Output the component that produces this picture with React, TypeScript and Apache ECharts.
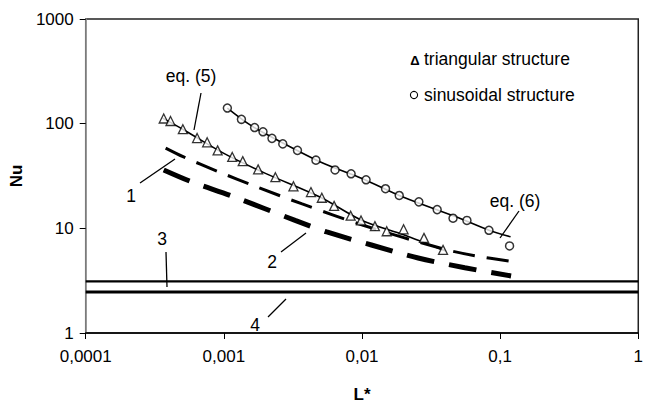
import React, { useEffect, useRef } from "react";
import * as echarts from "echarts";

const xTickValues = [0.0001, 0.001, 0.01, 0.1, 1];
const xTickLabels = ["0,0001", "0,001", "0,01", "0,1", "1"];
const yTickValues = [1, 10, 100, 1000];
const yTickLabels = ["1", "10", "100", "1000"];

const triangleL = [0.000367, 0.000411, 0.000505, 0.00064, 0.000757, 0.000901, 0.00115, 0.00137, 0.00177, 0.00236, 0.00319, 0.00427, 0.00512, 0.00628, 0.00828, 0.00984, 0.0124, 0.0151, 0.02, 0.0281, 0.0386];
const triangleNu = [112, 106, 88.5, 72.9, 66.4, 55.6, 48.1, 43.9, 36.6, 30.8, 25.2, 22.2, 19.6, 16.4, 13.2, 11.9, 10.5, 9.38, 9.79, 8.11, 6.23];

const circleL = [0.00106, 0.00134, 0.00167, 0.00192, 0.00223, 0.00267, 0.00341, 0.00464, 0.00638, 0.00834, 0.0107, 0.0148, 0.0186, 0.0258, 0.035, 0.0456, 0.0575, 0.083, 0.117];
const circleNu = [141, 110, 91.8, 83.6, 72.4, 64.1, 55.6, 44.8, 36.1, 33.2, 29.1, 23.9, 20.6, 17.9, 15.1, 12.5, 11.9, 9.58, 6.79];

const eq5L = [0.00036, 0.0005, 0.001, 0.002, 0.005, 0.01, 0.02, 0.04];
const eq5Nu = [113, 89, 52, 33.5, 19.8, 11.9, 8.7, 6.1];

const eq6L = [0.00106, 0.0015, 0.002, 0.005, 0.01, 0.02, 0.05, 0.083, 0.119];
const eq6Nu = [141, 100, 80, 43, 30, 19.8, 12.6, 9.6, 8.3];

const curve1L = [0.000379, 0.000511, 0.000912, 0.00169, 0.00369, 0.0102, 0.0385, 0.0655, 0.12];
const curve1Nu = [58.4, 48.1, 34.8, 25.2, 17.1, 10.7, 6.37, 5.47, 4.84];

const curve2L = [0.000367, 0.000573, 0.00115, 0.00328, 0.00556, 0.0117, 0.0255, 0.0555, 0.12];
const curve2Nu = [36.1, 28.1, 20.3, 11.9, 9.23, 6.93, 5.21, 4.2, 3.51];

const limitL = [0.0001, 1];
const line3Nu = [3.11, 3.11];
const line4Nu = [2.47, 2.47];

const FONT = "'Liberation Sans', Arial, sans-serif";

const pair = (xs: number[], ys: number[]) => xs.map((x, i) => [x, ys[i]]);

const nearestLabel = (v: number, ticks: number[], labels: string[]) => {
  let best = 0;
  let bd = Infinity;
  ticks.forEach((t, i) => {
    const d = Math.abs(Math.log10(v) - Math.log10(t));
    if (d < bd) {
      bd = d;
      best = i;
    }
  });
  return bd < 0.01 ? labels[best] : "";
};

export default function App() {
  const ref = useRef<HTMLDivElement>(null);
  useEffect(() => {
    if (!ref.current) return;
    const chart = echarts.init(ref.current, null, { renderer: "svg" });
    const txt = (text: string, x: number, y: number, extra: any = {}) => ({
      type: "text",
      x,
      y,
      style: {
        text,
        fill: "#000",
        font: `17.5px ${FONT}`,
        align: "center",
        verticalAlign: "middle",
        ...extra,
      },
    });
    const ln = (x1: number, y1: number, x2: number, y2: number) => ({
      type: "line",
      shape: { x1, y1, x2, y2 },
      style: { stroke: "#000", lineWidth: 1.3 },
    });
    chart.setOption({
      animation: false,
      backgroundColor: "#fff",
      grid: {
        left: 85,
        top: 19,
        width: 554,
        height: 320,
        show: true,
        borderColor: "#222",
        borderWidth: 1.5,
        backgroundColor: "transparent",
      },
      xAxis: {
        type: "log",
        logBase: 10,
        min: 0.0001,
        max: 1,
        splitNumber: 4,
        name: "L*",
        nameLocation: "middle",
        nameGap: 53,
        nameTextStyle: { fontFamily: FONT, fontSize: 17, fontWeight: "bold", color: "#000" },
        axisLine: { lineStyle: { color: "#000", width: 1.5 } },
        axisTick: { show: true, inside: false, length: 6, lineStyle: { color: "#000", width: 1 } },
        axisLabel: {
          fontFamily: FONT,
          fontSize: 17,
          color: "#000",
          margin: 15,
          formatter: (v: number) => nearestLabel(v, xTickValues, xTickLabels),
        },
        splitLine: { show: false },
        minorTick: { show: false },
      },
      yAxis: {
        type: "log",
        logBase: 10,
        min: 1,
        max: 1000,
        splitNumber: 3,
        name: "Nu",
        nameLocation: "middle",
        nameRotate: 90,
        nameGap: 46,
        nameTextStyle: { fontFamily: FONT, fontSize: 17, fontWeight: "bold", color: "#000" },
        axisLine: { lineStyle: { color: "#9a9a9a", width: 1.5 } },
        axisTick: { show: true, inside: false, length: 6, lineStyle: { color: "#000", width: 1 } },
        axisLabel: {
          fontFamily: FONT,
          fontSize: 17,
          color: "#000",
          margin: 12,
          formatter: (v: number) => nearestLabel(v, yTickValues, yTickLabels),
        },
        splitLine: { show: false },
      },
      series: [
        {
          type: "line",
          data: pair(limitL, line3Nu),
          symbol: "none",
          lineStyle: { color: "#000", width: 2.2 },
          z: 2,
        },
        {
          type: "line",
          data: pair(limitL, line4Nu),
          symbol: "none",
          lineStyle: { color: "#000", width: 3 },
          z: 2,
        },
        {
          type: "line",
          data: pair(curve1L, curve1Nu),
          symbol: "none",
          smooth: 0.3,
          lineStyle: { color: "#000", width: 3, type: [22, 12], cap: "butt" },
          z: 2,
        },
        {
          type: "line",
          data: pair(curve2L, curve2Nu),
          symbol: "none",
          smooth: 0.3,
          lineStyle: { color: "#000", width: 5, type: [28, 15], cap: "butt" },
          z: 2,
        },
        {
          type: "line",
          data: pair(eq5L, eq5Nu),
          symbol: "none",
          smooth: 0.3,
          lineStyle: { color: "#000", width: 1.6 },
          z: 3,
        },
        {
          type: "line",
          data: pair(eq6L, eq6Nu),
          symbol: "none",
          smooth: 0.3,
          lineStyle: { color: "#000", width: 1.6 },
          z: 3,
        },
        {
          type: "scatter",
          data: pair(triangleL, triangleNu),
          symbol: "triangle",
          symbolSize: 9,
          itemStyle: { color: "#fff", borderColor: "#000", borderWidth: 1.3 },
          z: 4,
        },
        {
          type: "scatter",
          data: pair(circleL, circleNu),
          symbol: "circle",
          symbolSize: 8,
          itemStyle: { color: "#fff", borderColor: "#000", borderWidth: 1.5 },
          z: 4,
        },
      ],
      graphic: [
        txt("eq. (5)", 191, 76),
        ln(201, 93, 194, 130),
        txt("1", 131, 196),
        ln(140, 183, 175, 159),
        txt("2", 272, 262),
        ln(281, 252, 306, 233),
        txt("3", 162, 239),
        ln(166, 252, 167, 287),
        txt("4", 255, 325),
        ln(268, 317, 286, 299),
        txt("eq. (6)", 515, 201),
        ln(519, 211, 500, 238),
        txt("Δ", 415, 60, { font: `bold 13px ${FONT}` }),
        txt("triangular structure", 424, 59, { align: "left" }),
        {
          type: "circle",
          shape: { cx: 414, cy: 95, r: 3.6 },
          style: { fill: "#fff", stroke: "#000", lineWidth: 1.1 },
        },
        txt("sinusoidal structure", 424, 95, { align: "left" }),
      ],
    });
    return () => chart.dispose();
  }, []);
  return (
    <div
      ref={ref}
      style={{ position: "fixed", left: 0, top: 0, width: 646, height: 408, background: "#fff" }}
    />
  );
}
